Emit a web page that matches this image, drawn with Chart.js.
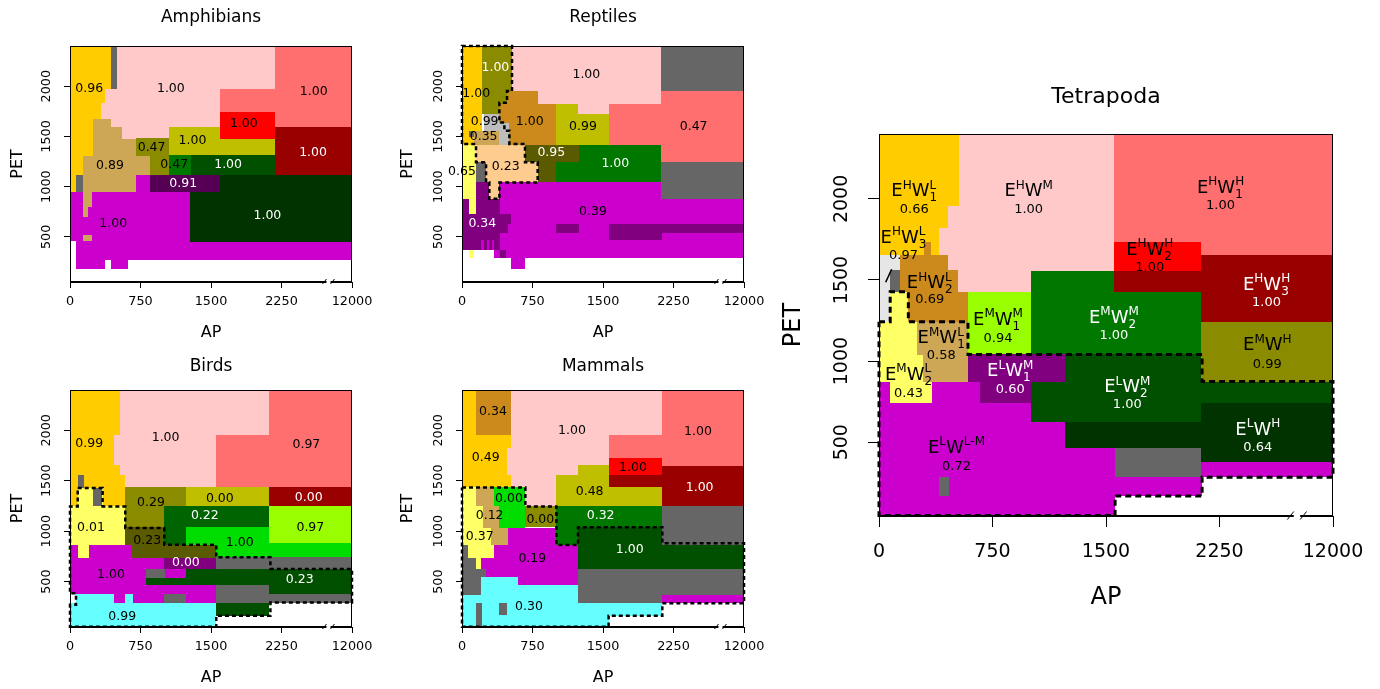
<!DOCTYPE html>
<html>
<head>
<meta charset="utf-8">
<script src="https://cdn.jsdelivr.net/npm/chart.js@4.4.1/dist/chart.umd.min.js"></script>
<style>
  body { margin: 0; background: #fff; width: 1380px; height: 689px; overflow: hidden; position: relative; }
  canvas { position: absolute; }
</style>
</head>
<body>
<canvas id="amph" width="380" height="345" style="left:0px;top:0px"></canvas>
<canvas id="rept" width="380" height="345" style="left:390px;top:0px"></canvas>
<canvas id="bird" width="380" height="360" style="left:0px;top:345px"></canvas>
<canvas id="mamm" width="380" height="360" style="left:390px;top:345px"></canvas>
<canvas id="tetra" width="620" height="570" style="left:760px;top:60px"></canvas>
<script>
// AP axis: 0..2250 is true AP, 2250..3000 stands for the squeezed 2250..12000 part
const xTicks = [0, 750, 1500, 2250, 3000];
const xTickLabels = ["0", "750", "1500", "2250", "12000"];
const yTicks = [500, 1000, 1500, 2000];

const colors = {
  gold: "#FFCC00", pink: "#FFC9C9", salmon: "#FF6F6F", red: "#FF0000", dred: "#990000",
  brown: "#CC8A1C", tan: "#CDA656", yellow: "#FFFF66", lime: "#99FF00", green: "#007800",
  olive: "#8B8B00", yolive: "#BFBF00", dolive: "#5A5A00", purple: "#800080", dpurple: "#550055",
  dgreen: "#005000", dgreen2: "#006400", vdgreen: "#003300", magenta: "#CC00CC", gray: "#666666",
  lgray: "#E6E6E6", sgray: "#BEBEBE", peach: "#FFCC8F", cyan: "#66FFFF", bgreen: "#00DD00", white: "#FFFFFF"
};

// cells: [AP from, AP to, PET from, PET to, colour]
const amphCells = [
  [0, 1272, 454, 948, "magenta"], [705, 847, 948, 1112, "magenta"], [67, 3000, 273, 454, "magenta"],
  [67, 368, 175, 273, "magenta"], [432, 616, 175, 273, "magenta"],
  [0, 432, 1961, 2400, "gold"], [0, 368, 1836, 1961, "gold"], [0, 326, 1671, 1836, "gold"],
  [0, 244, 1309, 1671, "gold"], [0, 138, 1112, 1309, "gold"], [0, 67, 948, 1112, "gold"],
  [432, 503, 1961, 2400, "gray"], [67, 138, 948, 1112, "gray"],
  [503, 2178, 1967, 2400, "pink"], [368, 1594, 1836, 1967, "pink"], [326, 1594, 1671, 1836, "pink"],
  [432, 1594, 1589, 1671, "pink"], [553, 1052, 1474, 1589, "pink"],
  [244, 432, 1589, 1671, "tan"], [244, 553, 1474, 1589, "tan"], [244, 705, 1309, 1474, "tan"],
  [138, 847, 1112, 1309, "tan"], [138, 705, 948, 1112, "tan"], [138, 234, 800, 948, "tan"],
  [138, 191, 701, 800, "tan"], [138, 234, 454, 520, "tan"],
  [2178, 3000, 1589, 2400, "salmon"], [1594, 2178, 1747, 1967, "salmon"],
  [1594, 2178, 1474, 1747, "red"], [2178, 3000, 1112, 1589, "dred"],
  [1052, 1594, 1319, 1589, "yolive"], [1594, 2178, 1319, 1474, "yolive"],
  [705, 1052, 1309, 1484, "olive"], [847, 1052, 1112, 1309, "olive"],
  [1052, 1290, 1112, 1319, "green"], [1290, 2178, 1112, 1319, "dgreen"],
  [847, 1594, 948, 1112, "dpurple"],
  [1594, 3000, 444, 1112, "vdgreen"], [1272, 1594, 444, 948, "vdgreen"]
];
const amphLabels = [
  [205, 1974, "0.96", "k"], [1073, 1974, "1.00", "k"], [2593, 1944, "1.00", "k"], [1849, 1628, "1.00", "k"],
  [1303, 1457, "1.00", "k"], [868, 1385, "0.47", "k"], [425, 1211, "0.89", "k"], [1109, 1217, "0.47", "k"],
  [1682, 1217, "1.00", "w"], [2586, 1336, "1.00", "w"], [1204, 1030, "0.91", "w"], [2100, 711, "1.00", "w"],
  [460, 635, "1.00", "k"]
];

const reptCells = [
  [401, 3000, 286, 1044, "magenta"], [0, 401, 368, 467, "magenta"], [340, 3000, 286, 368, "magenta"],
  [525, 674, 177, 286, "magenta"],
  [0, 401, 467, 1044, "purple"], [401, 522, 632, 731, "purple"], [401, 486, 533, 632, "purple"],
  [0, 202, 368, 467, "purple"], [238, 266, 368, 467, "purple"], [291, 316, 368, 467, "purple"],
  [344, 401, 368, 467, "purple"], [401, 467, 286, 368, "purple"],
  [1003, 1241, 533, 626, "purple"], [1560, 2131, 467, 626, "purple"], [2131, 3000, 533, 626, "purple"],
  [0, 213, 1417, 2400, "gold"],
  [213, 532, 1951, 2400, "olive"], [213, 479, 1820, 1951, "olive"], [213, 398, 1720, 1820, "olive"],
  [479, 805, 1820, 1951, "brown"], [398, 1005, 1417, 1820, "brown"],
  [238, 398, 1555, 1720, "sgray"], [398, 504, 1417, 1638, "sgray"],
  [132, 398, 1417, 1555, "tan"], [78, 132, 1489, 1555, "gray"],
  [532, 2121, 1951, 2400, "pink"], [805, 2121, 1820, 1951, "pink"], [1234, 1560, 1720, 1820, "pink"],
  [1005, 1234, 1417, 1820, "yolive"], [1234, 1560, 1417, 1720, "yolive"],
  [1560, 2121, 1417, 1820, "salmon"], [2121, 3000, 1242, 1951, "salmon"],
  [2121, 3000, 1951, 2400, "gray"], [2121, 3000, 873, 1242, "gray"],
  [670, 1241, 1242, 1417, "dolive"], [805, 1003, 1044, 1242, "dolive"],
  [1241, 2121, 1044, 1417, "green"], [1003, 1241, 1044, 1242, "green"],
  [0, 149, 873, 1417, "yellow"], [78, 149, 731, 873, "yellow"], [78, 132, 286, 368, "yellow"],
  [149, 670, 1242, 1417, "peach"], [256, 805, 1044, 1242, "peach"], [291, 398, 880, 1044, "peach"],
  [152, 256, 1044, 1242, "gray"]
];
const reptLabels = [
  [355, 2181, "1.00", "w"], [1323, 2109, "1.00", "k"], [152, 1927, "1.00", "k"], [720, 1647, "1.00", "k"],
  [241, 1647, "0.99", "k"], [1287, 1598, "0.99", "k"], [2464, 1598, "0.47", "k"], [230, 1496, "0.35", "k"],
  [950, 1334, "0.95", "w"], [1631, 1225, "1.00", "w"], [0, 1143, "0.65", "k"], [465, 1199, "0.23", "k"],
  [1394, 754, "0.39", "k"], [216, 632, "0.34", "w"]
];
const reptPath = [
  [0, 1423], [0, 2400], [532, 2400], [532, 1951], [479, 1951], [479, 1835], [398, 1835], [398, 1638],
  [451, 1638], [451, 1555], [504, 1555], [504, 1423], [670, 1423], [670, 1242], [805, 1242], [805, 1040],
  [398, 1040], [398, 878], [291, 878], [291, 1040], [256, 1040], [256, 1242], [149, 1242], [149, 1423], [0, 1423]
];

const birdCells = [
  [0, 1551, 378, 866, "magenta"],
  [0, 1551, 53, 292, "cyan"], [0, 471, 292, 378, "cyan"], [584, 666, 292, 378, "cyan"],
  [471, 584, 292, 378, "magenta"], [666, 1551, 292, 378, "magenta"], [999, 1229, 292, 378, "gray"],
  [0, 64, 286, 378, "white"],
  [0, 531, 1958, 2400, "gold"], [0, 471, 1660, 1958, "gold"], [0, 531, 1560, 1660, "gold"], [0, 588, 1246, 1560, "gold"],
  [531, 2118, 1957, 2400, "pink"], [471, 1551, 1660, 1957, "pink"], [531, 1551, 1560, 1660, "pink"],
  [588, 1551, 1434, 1560, "pink"],
  [2118, 3000, 1434, 2400, "salmon"], [1551, 2118, 1434, 1957, "salmon"],
  [82, 347, 1246, 1428, "yellow"], [82, 152, 1428, 1560, "gray"], [248, 340, 1246, 1428, "gray"],
  [0, 588, 866, 1246, "yellow"], [82, 205, 733, 866, "yellow"],
  [584, 1229, 1245, 1434, "olive"], [584, 999, 1040, 1245, "olive"],
  [1229, 2118, 1245, 1434, "yolive"], [2118, 3000, 1245, 1434, "dred"],
  [999, 2118, 1040, 1245, "dgreen2"], [999, 1229, 864, 1040, "dgreen2"],
  [2118, 3000, 880, 1245, "lime"],
  [1229, 2118, 735, 1040, "bgreen"], [2118, 3000, 742, 880, "bgreen"],
  [584, 999, 864, 1040, "dolive"], [655, 1551, 735, 864, "dolive"],
  [999, 1551, 626, 735, "purple"],
  [804, 1009, 533, 626, "gray"], [1229, 2118, 467, 626, "dgreen"], [804, 1229, 467, 533, "dgreen"],
  [1551, 3000, 626, 742, "gray"], [2118, 3000, 378, 626, "dgreen"],
  [1551, 2118, 292, 467, "gray"], [2118, 3000, 292, 378, "gray"], [1551, 2118, 162, 292, "dgreen"]
];
const birdLabels = [
  [205, 1864, "0.99", "k"], [1017, 1924, "1.00", "k"], [2515, 1858, "0.97", "k"], [861, 1278, "0.29", "k"],
  [1594, 1321, "0.00", "k"], [2540, 1328, "0.00", "w"], [1434, 1152, "0.22", "w"], [223, 1036, "0.01", "k"],
  [2557, 1030, "0.97", "k"], [822, 904, "0.23", "k"], [1806, 888, "1.00", "k"], [1233, 692, "0.00", "w"],
  [436, 573, "1.00", "k"], [2444, 517, "0.23", "w"], [556, 152, "0.99", "k"]
];
const birdPath = [
  [82, 1428], [347, 1428], [347, 1246], [588, 1246], [588, 1031], [1003, 1031], [1003, 866], [1556, 866],
  [1556, 742], [2132, 742], [2132, 626], [3000, 626], [3000, 292], [2132, 292], [2132, 162], [1556, 162],
  [1556, 53], [0, 53], [0, 270], [64, 270], [64, 385], [0, 385], [0, 1246], [82, 1246], [82, 1428]
];

const mammCells = [
  [486, 1004, 866, 1031, "magenta"], [344, 1234, 733, 866, "magenta"], [206, 1234, 550, 733, "magenta"],
  [596, 1234, 467, 550, "magenta"],
  [0, 149, 1957, 2400, "gold"], [0, 522, 1434, 1957, "gold"], [149, 522, 1957, 2400, "brown"],
  [522, 2131, 1957, 2400, "pink"], [522, 1560, 1825, 1957, "pink"], [479, 1560, 1660, 1825, "pink"],
  [479, 1234, 1560, 1660, "pink"], [522, 1004, 1434, 1560, "pink"], [674, 1004, 1245, 1434, "pink"],
  [2131, 3000, 1649, 2400, "salmon"], [1560, 2131, 1725, 1957, "salmon"],
  [1560, 2131, 1560, 1725, "red"], [2131, 3000, 1245, 1649, "dred"], [1560, 2131, 1434, 1560, "dred"],
  [1234, 1560, 1560, 1660, "yolive"], [1004, 1560, 1245, 1560, "yolive"], [1560, 2131, 1245, 1434, "yolive"],
  [1004, 2131, 1040, 1245, "green"], [1004, 1234, 864, 1040, "green"],
  [2131, 3000, 864, 1245, "gray"], [1234, 2131, 626, 1040, "dgreen"], [2131, 3000, 626, 864, "dgreen"],
  [1234, 3000, 285, 626, "gray"], [2131, 3000, 285, 368, "magenta"],
  [0, 1234, 54, 368, "cyan"], [206, 1234, 368, 467, "cyan"], [206, 596, 467, 550, "cyan"],
  [1234, 2131, 162, 285, "cyan"], [1234, 1560, 54, 162, "cyan"],
  [149, 210, 54, 286, "gray"], [398, 479, 170, 286, "gray"],
  [0, 344, 733, 1434, "yellow"],
  [149, 344, 1246, 1434, "tan"], [220, 398, 1031, 1246, "tan"], [309, 486, 866, 1031, "tan"],
  [344, 674, 1246, 1434, "bgreen"], [398, 674, 1031, 1246, "bgreen"], [674, 1004, 1040, 1245, "olive"],
  [0, 64, 368, 866, "gray"], [0, 149, 626, 733, "gray"], [0, 252, 550, 626, "gray"], [0, 206, 368, 550, "gray"],
  [149, 206, 626, 733, "yellow"]
];
const mammLabels = [
  [330, 2182, "0.34", "k"], [1170, 1997, "1.00", "k"], [2511, 1983, "1.00", "k"], [252, 1725, "0.49", "k"],
  [1819, 1632, "1.00", "k"], [2528, 1427, "1.00", "w"], [1358, 1394, "0.48", "k"], [500, 1321, "0.00", "k"],
  [294, 1152, "0.12", "k"], [1475, 1152, "0.32", "w"], [833, 1113, "0.00", "k"], [188, 940, "0.37", "k"],
  [1784, 815, "1.00", "w"], [748, 725, "0.19", "k"], [713, 252, "0.30", "k"]
];
const mammPath = [
  [0, 1434], [674, 1434], [674, 1245], [1004, 1245], [1004, 864], [1234, 864], [1234, 1040], [2131, 1040],
  [2131, 880], [3000, 880], [3000, 285], [2131, 285], [2131, 162], [1560, 162], [1560, 53], [0, 53], [0, 1434]
];

const tetraCells = [
  [0, 2135, 169, 873, "magenta"], [0, 1560, 45, 169, "magenta"], [2135, 3000, 284, 375, "magenta"],
  [0, 531, 1959, 2400, "gold"], [0, 465, 1823, 1959, "gold"], [0, 397, 1655, 1823, "gold"],
  [296, 346, 1655, 1737, "brown"],
  [531, 1006, 1425, 2400, "pink"], [1006, 1554, 1556, 2400, "pink"], [456, 531, 1425, 1959, "pink"],
  [397, 465, 1655, 1823, "pink"],
  [1554, 3000, 1655, 2400, "salmon"], [1554, 2128, 1556, 1737, "red"],
  [1554, 2128, 1425, 1556, "dred"], [2128, 3000, 1240, 1655, "dred"],
  [1006, 1554, 1042, 1556, "green"], [1554, 2128, 1042, 1425, "green"],
  [2128, 3000, 874, 1240, "olive"], [588, 1006, 1042, 1425, "lime"],
  [0, 140, 1243, 1655, "lgray"], [74, 140, 1428, 1562, "gray"],
  [140, 456, 1562, 1655, "brown"], [140, 524, 1428, 1562, "brown"], [194, 588, 1243, 1428, "brown"],
  [74, 194, 1243, 1428, "yellow"], [0, 249, 873, 1243, "yellow"], [0, 293, 873, 1037, "yellow"],
  [74, 348, 740, 873, "yellow"],
  [249, 588, 1037, 1243, "tan"], [293, 588, 873, 1037, "tan"],
  [588, 1231, 873, 1042, "purple"], [665, 1006, 740, 873, "purple"],
  [1231, 2128, 873, 1042, "dgreen"], [1006, 2128, 627, 873, "dgreen"], [2128, 3000, 740, 874, "dgreen"],
  [1231, 2128, 467, 627, "vdgreen"], [2128, 3000, 375, 740, "vdgreen"],
  [1560, 2128, 284, 467, "gray"], [396, 462, 171, 287, "gray"]
];
// [AP, PET of name, PET of value, E level, W level, W index, value, text colour]
const tetraLabels = [
  [233, 2055, 1936, "H", "L", "1", "0.66", "k"],
  [989, 2055, 1936, "H", "M", "", "1.00", "k"],
  [2257, 2076, 1959, "H", "H", "1", "1.00", "k"],
  [162, 1768, 1649, "H", "L", "3", "0.97", "k"],
  [1789, 1696, 1579, "H", "H", "2", "1.00", "k"],
  [335, 1490, 1377, "H", "L", "2", "0.69", "k"],
  [2561, 1480, 1361, "H", "H", "3", "1.00", "w"],
  [786, 1264, 1141, "M", "M", "1", "0.94", "k"],
  [1552, 1275, 1155, "M", "M", "2", "1.00", "w"],
  [411, 1151, 1034, "M", "L", "1", "0.58", "k"],
  [2566, 1106, 981, "M", "H", "", "0.99", "k"],
  [195, 925, 802, "M", "L", "2", "0.43", "k"],
  [867, 946, 827, "L", "M", "1", "0.60", "w"],
  [1641, 849, 730, "L", "M", "2", "1.00", "w"],
  [2503, 586, 469, "L", "H", "", "0.64", "w"],
  [512, 473, 350, "L", "L-M", "", "0.72", "k"]
];
const tetraPath = [
  [0, 1243], [74, 1243], [74, 1428], [194, 1428], [194, 1243], [588, 1243], [588, 1040], [2135, 1040],
  [2135, 874], [3000, 874], [3000, 284], [2135, 284], [2135, 169], [1560, 169], [1560, 48], [0, 48], [0, 1243]
];
const tetraPointer = [[44, 1486], [84, 1566]];

const FONT = '"DejaVu Sans", Verdana, sans-serif';
Chart.defaults.font.family = FONT;
Chart.defaults.color = "#000";

const small = { tick: 12.8, tl: 6, xpad: 6, ypad: 1.5, axis: 16, val: 12.5, title: 17, dashW: 2.5, dash: [4, 3], breakAt: 2750, brk: 1 };
const big = { tick: 19, tl: 11, xpad: 13.3, ypad: 1.3, axis: 24, val: 13, name: 18, sup: 12, title: 22, dashW: 3, dash: [6, 4], breakAt: 2762, brk: 1.6 };

function drawName(ctx, x, y, eSup, wSup, wSub, st, col) {
  const bigF = st.name + "px " + FONT, supF = st.sup + "px " + FONT;
  ctx.font = bigF;
  const wE = ctx.measureText("E").width, wW = ctx.measureText("W").width;
  ctx.font = supF;
  const w1 = ctx.measureText(eSup).width;
  const w2 = Math.max(ctx.measureText(wSup).width, ctx.measureText(wSub).width);
  let cx = x - (wE + w1 + wW + w2) / 2;
  const base = y + st.name * 0.36;
  ctx.fillStyle = col;
  ctx.textAlign = "left";
  ctx.textBaseline = "alphabetic";
  ctx.font = bigF; ctx.fillText("E", cx, base); cx += wE;
  ctx.font = supF; ctx.fillText(eSup, cx, base - st.name * 0.42); cx += w1;
  ctx.font = bigF; ctx.fillText("W", cx, base); cx += wW;
  ctx.font = supF;
  ctx.fillText(wSup, cx, base - st.name * 0.42);
  if (wSub) ctx.fillText(wSub, cx, base + st.name * 0.28);
}

function mapPlugin(p) {
  return {
    id: "map_" + p.id,
    beforeDatasetsDraw(chart) {
      const { ctx, chartArea: a, scales: { x, y } } = chart;
      ctx.save();
      ctx.beginPath();
      ctx.rect(a.left, a.top, a.right - a.left, a.bottom - a.top);
      ctx.clip();
      for (const c of p.cells) {
        const x0 = Math.round(x.getPixelForValue(c[0])), x1 = Math.round(x.getPixelForValue(c[1]));
        const y0 = Math.round(y.getPixelForValue(c[3])), y1 = Math.round(y.getPixelForValue(c[2]));
        ctx.fillStyle = colors[c[4]];
        ctx.fillRect(x0, y0, x1 - x0, y1 - y0);
      }
      ctx.restore();
    },
    afterDatasetsDraw(chart) {
      const { ctx, scales: { x, y } } = chart;
      const st = p.st;
      ctx.save();
      for (const l of p.labels) {
        if (p.big) {
          const px = x.getPixelForValue(l[0]);
          const col = l[7] === "w" ? "#fff" : "#000";
          drawName(ctx, px, y.getPixelForValue(l[1]), l[3], l[4], l[5], st, col);
          ctx.font = st.val + "px " + FONT;
          ctx.textAlign = "center";
          ctx.textBaseline = "middle";
          ctx.fillText(l[6], px, y.getPixelForValue(l[2]));
        } else {
          ctx.font = st.val + "px " + FONT;
          ctx.textAlign = "center";
          ctx.textBaseline = "middle";
          ctx.fillStyle = l[3] === "w" ? "#fff" : "#000";
          ctx.fillText(l[2], x.getPixelForValue(l[0]), y.getPixelForValue(l[1]));
        }
      }
      ctx.restore();
    },
    afterDraw(chart) {
      const { ctx, chartArea: a, scales: { x } } = chart;
      const st = p.st;
      ctx.save();
      ctx.strokeStyle = "#000";
      ctx.lineWidth = 1;
      ctx.strokeRect(a.left + 0.5, a.top + 0.5, a.right - a.left - 1, a.bottom - a.top - 1);
      // axis break mark
      const bx = x.getPixelForValue(st.breakAt), by = a.bottom - 0.5, k = st.brk;
      ctx.fillStyle = "#fff";
      ctx.fillRect(bx - 2 * k, by - 2 * k, 4 * k, 4 * k);
      ctx.beginPath();
      ctx.moveTo(bx - 6 * k, by + 2.5 * k); ctx.lineTo(bx - 2 * k, by - 2.5 * k);
      ctx.moveTo(bx + 2 * k, by + 2.5 * k); ctx.lineTo(bx + 6 * k, by - 2.5 * k);
      ctx.stroke();
      // panel title
      ctx.fillStyle = "#000";
      ctx.font = st.title + "px " + FONT;
      ctx.textAlign = "center";
      ctx.textBaseline = "middle";
      ctx.fillText(p.title, (a.left + a.right) / 2, p.titleY);
      ctx.restore();
    }
  };
}

function makePanel(p) {
  const st = p.st;
  const datasets = p.paths.map(path => ({
    type: "line",
    data: path.map(([x, y]) => ({ x, y })),
    borderColor: "#000",
    borderWidth: st.dashW,
    borderDash: st.dash,
    pointRadius: 0,
    fill: false,
    tension: 0,
    clip: false
  }));
  (p.solid || []).forEach(path => datasets.push({
    type: "line",
    data: path.map(([x, y]) => ({ x, y })),
    borderColor: "#000",
    borderWidth: 1.6,
    pointRadius: 0,
    fill: false,
    clip: false
  }));
  new Chart(document.getElementById(p.id), {
    type: "scatter",
    data: { datasets },
    options: {
      responsive: false,
      animation: false,
      devicePixelRatio: 1,
      layout: { padding: { left: 0, top: p.top, right: p.right, bottom: 0 }, autoPadding: false },
      plugins: { legend: { display: false }, tooltip: { enabled: false } },
      scales: {
        x: {
          type: "linear", min: 0, max: 3000,
          afterBuildTicks: s => { s.ticks = xTicks.map(v => ({ value: v })); },
          afterFit: s => { s.height = p.xh; s.paddingLeft = 0; s.paddingRight = 0; },
          grid: { drawOnChartArea: false, drawTicks: true, tickLength: st.tl, color: "#000" },
          border: { display: true, color: "#000" },
          ticks: {
            autoSkip: false, maxRotation: 0, color: "#000", padding: st.xpad,
            font: { size: st.tick }, callback: (v, i) => xTickLabels[i]
          },
          title: { display: true, text: "AP", color: "#000", font: { size: st.axis }, padding: { top: 0, bottom: p.xtp } }
        },
        y: {
          type: "linear", min: p.ymin, max: 2400,
          afterBuildTicks: s => { s.ticks = yTicks.map(v => ({ value: v })); },
          afterFit: s => { s.width = p.yw; s.paddingTop = 0; s.paddingBottom = 0; },
          grid: { drawOnChartArea: false, drawTicks: true, tickLength: st.tl, color: "#000" },
          border: { display: true, color: "#000" },
          ticks: {
            autoSkip: false, minRotation: 90, maxRotation: 90, crossAlign: "center",
            color: "#000", padding: st.ypad, font: { size: st.tick }, callback: v => String(v)
          },
          title: { display: true, text: "PET", color: "#000", font: { size: st.axis }, padding: { top: p.ytp, bottom: 0 } }
        }
      }
    },
    plugins: [mapPlugin(p)]
  });
}

makePanel({ id: "amph", title: "Amphibians", cells: amphCells, labels: amphLabels, paths: [], st: small,
  top: 46, right: 28, yw: 70, xh: 63, ytp: 8.4, xtp: 2.4, titleY: 18, ymin: 50 });
makePanel({ id: "rept", title: "Reptiles", cells: reptCells, labels: reptLabels, paths: [reptPath], st: small,
  top: 46, right: 26, yw: 72, xh: 63, ytp: 8.4, xtp: 2.4, titleY: 18, ymin: 50 });
makePanel({ id: "bird", title: "Birds", cells: birdCells, labels: birdLabels, paths: [birdPath], st: small,
  top: 45, right: 28, yw: 70, xh: 78, ytp: 8.4, xtp: 17.7, titleY: 22, ymin: 50 });
makePanel({ id: "mamm", title: "Mammals", cells: mammCells, labels: mammLabels, paths: [mammPath], st: small,
  top: 45, right: 26, yw: 72, xh: 78, ytp: 8.4, xtp: 17.7, titleY: 22, ymin: 50 });
makePanel({ id: "tetra", title: "Tetrapoda", cells: tetraCells, labels: tetraLabels, paths: [tetraPath],
  solid: [tetraPointer], st: big, big: true,
  top: 74, right: 47, yw: 119, xh: 114, ytp: 19.6, xtp: 17.6, titleY: 37, ymin: 45 });
</script>
</body>
</html>
